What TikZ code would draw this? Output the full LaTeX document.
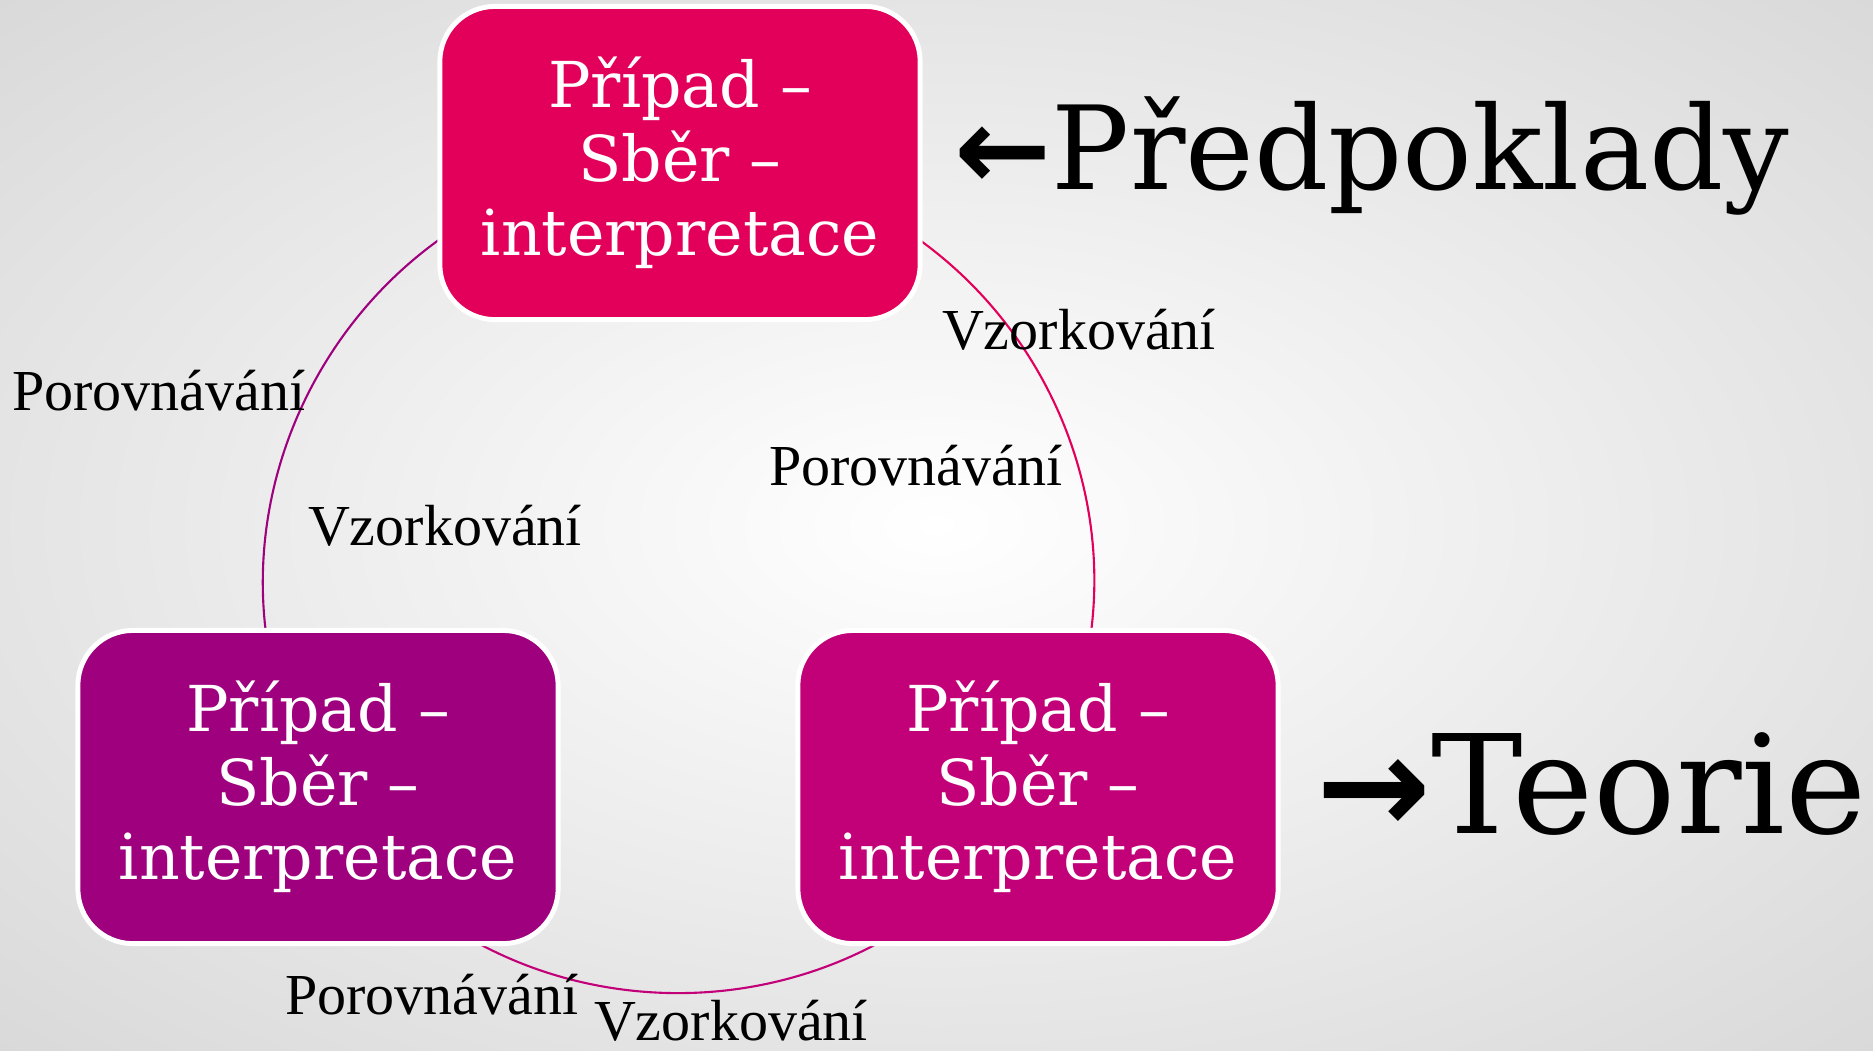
\documentclass[tikz,border=0pt]{standalone}
\usepackage{fontspec}
\setmainfont{DejaVu Serif}
\newfontfamily\labelfont{Liberation Serif}
\newfontfamily\arrowfont{DejaVu Sans}
\usetikzlibrary{backgrounds}
\definecolor{crimson}{RGB}{227,0,90}
\definecolor{plum}{RGB}{158,0,126}
\definecolor{magent}{RGB}{194,0,120}
\pgfdeclareradialshading{slidebg}{\pgfpoint{0bp}{0bp}}{color(0bp)=(white); color(50bp)=(black!21)}

\begin{document}
\begin{tikzpicture}[x=0.01cm,y=-0.01cm]
 \tikzset{casebox/.style = {rectangle,rounded corners=0.55cm,draw=white,line width=1.4pt,text=white,minimum width=4.8cm,minimum height=3.13cm,align=center,font=\fontsize{18}{21}\selectfont}}
 \tikzset{lbl/.style = {anchor=base,inner sep=1pt,font=\labelfont\fontsize{16.5}{18}\selectfont}}
 \tikzset{cyc/.style = {line width=0.6pt,bend right=60,looseness=1.13}}
 \useasboundingbox (0,0) rectangle (1873,1050);
 \node[casebox,fill=crimson] (top) at (680,163) {Případ –\\Sběr –\\interpretace};
 \node[casebox,fill=plum] (bl) at (318,787) {Případ –\\Sběr –\\interpretace};
 \node[casebox,fill=magent] (br) at (1038,787) {Případ –\\Sběr –\\interpretace};
 \node[lbl] (p1) at (159,410) {Porovnávání};
 \node[lbl] (v1) at (445,545) {Vzorkování};
 \node[lbl] (v2) at (1079,349) {Vzorkování};
 \node[lbl] (p2) at (916,485) {Porovnávání};
 \node[lbl] (p3) at (432,1014) {Porovnávání};
 \node[lbl] (v3) at (731,1040) {Vzorkování};
 \node[anchor=base west,inner sep=0,font=\fontsize{33}{36}\selectfont] (assume) at (954,189) {{\arrowfont\bfseries ←}Předpoklady};
 \node[anchor=base west,inner sep=0,font=\fontsize{39}{42}\selectfont] (theory) at (1316,833) {{\arrowfont\bfseries →}Teorie};
 \begin{pgfonlayer}{background}
 \shade[shading=slidebg] (0,0) rectangle (1873,1050);
 \draw[cyc,plum] (top.center) to (bl.center);
 \draw[cyc,magent] (bl.center) to (br.center);
 \draw[cyc,crimson] (br.center) to (top.center);
 \end{pgfonlayer}
\end{tikzpicture}
\end{document}
